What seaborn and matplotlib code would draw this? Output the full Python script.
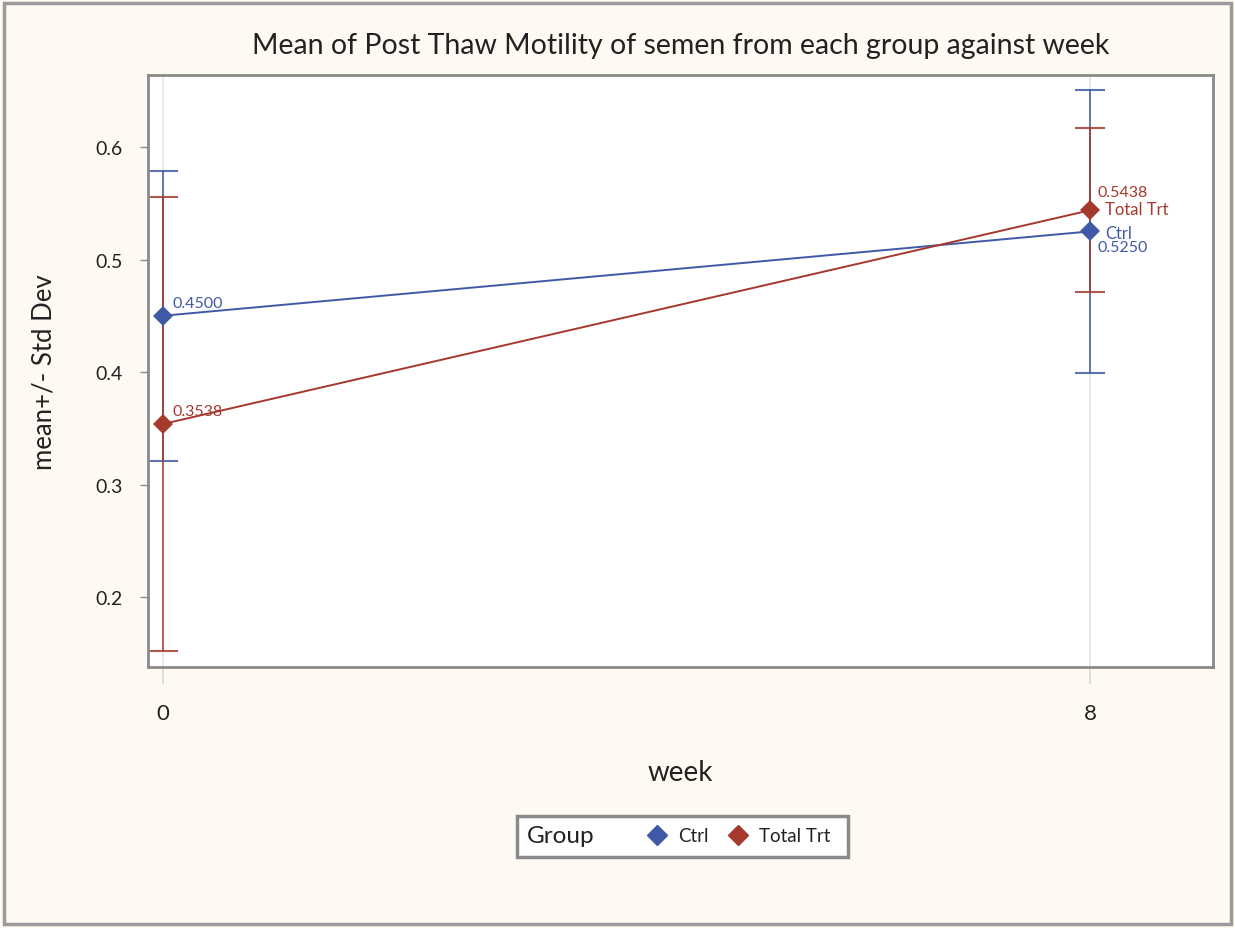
import matplotlib
matplotlib.use("Agg")
import matplotlib.pyplot as plt
import seaborn as sns
import pandas as pd
from matplotlib.patches import Rectangle
from matplotlib.lines import Line2D

# ---- data ----
weeks = [0, 8]
groups = ["Ctrl", "Total Trt"]
ctrl_mean = [0.4500, 0.5250]
ctrl_std = [0.129, 0.126]
trt_mean = [0.3538, 0.5438]
trt_std = [0.202, 0.0727]
x_ticks = [0, 8]
y_ticks = [0.2, 0.3, 0.4, 0.5, 0.6]

df = pd.DataFrame({
    "week": weeks + weeks,
    "mean": ctrl_mean + trt_mean,
    "std": ctrl_std + trt_std,
    "Group": [groups[0]] * 2 + [groups[1]] * 2,
})

sns.set_theme(style="white")
plt.rcParams["font.family"] = ["Lato", "DejaVu Sans"]

blue = "#4059A6"
red = "#A5392C"
palette = {"Ctrl": blue, "Total Trt": red}
bg = "#FFF9F4"
gray = "#8A8A8A"
txt = "#222222"

fig = plt.figure(figsize=(12.35, 9.29), dpi=100, facecolor=bg)
ax = fig.add_axes([148 / 1235, 1 - 668 / 929, (1213 - 148) / 1235, (668 - 76) / 929])
ax.set_facecolor("white")

# gridlines at x ticks
for xv in x_ticks:
    ax.axvline(xv, color="#E4E4E4", lw=1.2, zorder=0)

# error bars
for g in groups:
    sub = df[df["Group"] == g]
    ax.errorbar(sub["week"], sub["mean"], yerr=sub["std"], fmt="none",
                ecolor=palette[g], elinewidth=1.3, capsize=11, capthick=1.5,
                alpha=0.85, zorder=2)

sns.lineplot(data=df, x="week", y="mean", hue="Group", palette=palette,
             marker="D", markersize=10, markeredgewidth=0, linewidth=1.4,
             ax=ax, legend=False, zorder=3)

# data labels
ax.text(0.08, ctrl_mean[0] + 0.005, f"{ctrl_mean[0]:.4f}", color=blue, fontsize=11.5, va="bottom", ha="left")
ax.text(0.08, trt_mean[0] + 0.005, f"{trt_mean[0]:.4f}", color=red, fontsize=11.5, va="bottom", ha="left")
ax.text(8.06, trt_mean[1] + 0.010, f"{trt_mean[1]:.4f}", color=red, fontsize=11.5, va="bottom", ha="left")
ax.text(8.13, trt_mean[1] + 0.001, "Total Trt", color=red, fontsize=12, va="center", ha="left")
ax.text(8.13, ctrl_mean[1] - 0.001, "Ctrl", color=blue, fontsize=12, va="center", ha="left")
ax.text(8.06, ctrl_mean[1] - 0.008, f"{ctrl_mean[1]:.4f}", color=blue, fontsize=11.5, va="top", ha="left")

ax.set_xlim(-0.129, 9.06)
ax.set_ylim(0.1378, 0.664)
ax.set_xticks(x_ticks)
ax.set_yticks(y_ticks)
ax.set_yticklabels([f"{v:.1f}" for v in y_ticks])
ax.tick_params(axis="x", length=12, width=1.2, color="#D8D8D8", pad=14, labelsize=16, labelcolor=txt)
ax.tick_params(axis="y", length=6, width=1, color=gray, pad=12, labelsize=14, labelcolor=txt)
ax.tick_params(left=True, bottom=True)
for s in ax.spines.values():
    s.set_color(gray)
    s.set_linewidth(2)

ax.set_xlabel("week", fontsize=20, labelpad=26, color=txt)
ax.set_ylabel("mean+/- Std Dev", fontsize=18.5, labelpad=28, color=txt)
ax.set_title("Mean of Post Thaw Motility of semen from each group against week",
             fontsize=20.5, pad=16, color=txt)

# legend: frame box, "Group" label, and entries
fig.patches.append(Rectangle((517 / 1235, 1 - 858 / 929), 331 / 1235, 41 / 929,
                             transform=fig.transFigure, facecolor="white",
                             edgecolor=gray, linewidth=2.5, zorder=1))
fig.text(527 / 1235, 1 - 837 / 929, "Group", fontsize=17.5, color=txt,
         ha="left", va="center", zorder=3)
handles = [Line2D([], [], marker="D", color=blue, linestyle="none", markersize=10),
           Line2D([], [], marker="D", color=red, linestyle="none", markersize=10)]
leg = fig.legend(handles, groups, ncol=2, loc="center",
                 bbox_to_anchor=(740 / 1235, 1 - 837 / 929), frameon=False,
                 handlelength=0.8, handletextpad=0.7,
                 columnspacing=1.2, borderpad=0.3, fontsize=13.5)
leg.set_zorder(3)
for t in leg.get_texts():
    t.set_color(txt)

# outer border
fig.patches.append(Rectangle((4 / 1235, 4 / 929), 1227 / 1235, 921 / 929,
                             transform=fig.transFigure, fill=False,
                             edgecolor="#9A9A9A", linewidth=2.5))

fig.savefig("out.png", dpi=100, facecolor=bg)
